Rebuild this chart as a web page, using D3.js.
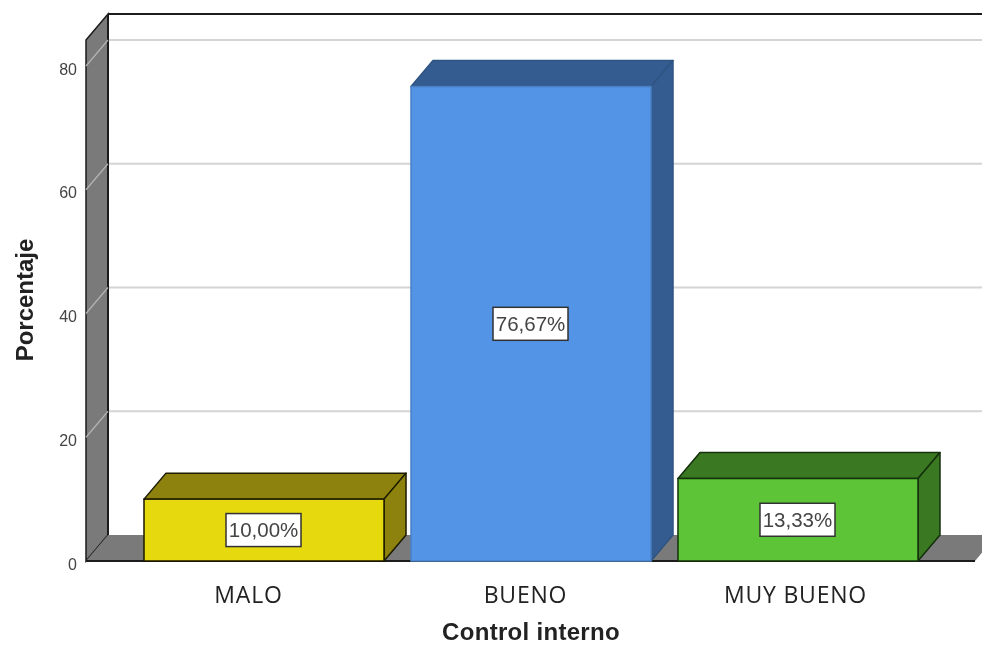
<!DOCTYPE html>
<html>
<head>
<meta charset="utf-8">
<script src="https://cdn.jsdelivr.net/npm/d3@7"></script>
<style>
html,body{margin:0;padding:0;background:#fff;overflow:hidden}
svg{display:block}
</style>
</head>
<body>
<script>
var categories=["MALO","BUENO","MUY BUENO"]
var values=[10.00,76.67,13.33]
var yTicks=[0,20,40,60,80]
var frontColors=["#E6D90F","#5294E6","#5DC437"]
var shadeColors=["#8C8209","#345C90","#3A7823"]
var edgeColors=["#1c1a00","#4a80c4","#14300c"]
var shadeEdges=["#1c1a00","#2f5482","#14300c"]

var width=982,height=645
var depth={x:22,y:26}
var wallGray="#7A7A7A",gridGray="#D4D4D4",ink="#1a1a1a"

var root=d3.select("body").append("svg")
  .attr("width",width)
  .attr("height",height)

// the source is a slightly soft screenshot
root.append("filter").attr("id","soft")
  .attr("x",0).attr("y",0).attr("width","100%").attr("height","100%")
  .attr("filterUnits","userSpaceOnUse")
  .append("feGaussianBlur").attr("stdDeviation",0.5)

var svg=root.append("g").attr("filter","url(#soft)")

svg.append("rect").attr("width",width).attr("height",height).attr("fill","#fff")

var y=d3.scaleLinear().domain([0,80]).range([561,66])
var x=d3.scaleBand().domain(categories)
  .range([130.65,931.35])
  .paddingInner(0.101)
  .paddingOuter(0.05)

// axis labels were pasted in by hand in the original, not centred on the bars
var labelX=d3.scaleOrdinal().domain(categories).range([248,525,795])

var front=x.range()[0]-44.65   // front edge of the left wall
var back=front+depth.x
var wallTop=y(80)-depth.y-26
var floorY=y(0)

function pts(a){return a.map(function(p){return p.join(",")}).join(" ")}

// left wall
svg.append("polygon")
  .attr("points",pts([[front,y(80)-26],[back,wallTop],[back,floorY-depth.y],[front,floorY]]))
  .attr("fill",wallGray)
  .attr("stroke",ink)
  .attr("stroke-width",1.5)

// floor
svg.append("polygon")
  .attr("points",pts([[front,floorY],[back,floorY-depth.y],[997,floorY-depth.y],[975,floorY]]))
  .attr("fill",wallGray)

svg.append("line")
  .attr("x1",front).attr("x2",975)
  .attr("y1",floorY).attr("y2",floorY)
  .attr("stroke",ink).attr("stroke-width",2)

svg.append("line")
  .attr("x1",back).attr("x2",width)
  .attr("y1",wallTop).attr("y2",wallTop)
  .attr("stroke",ink).attr("stroke-width",2)

svg.append("line")
  .attr("x1",back).attr("x2",back)
  .attr("y1",wallTop).attr("y2",floorY-depth.y)
  .attr("stroke",ink).attr("stroke-width",2)

// gridlines, back wall plus the slanted bit across the side wall
var grid=svg.append("g").selectAll("g").data(yTicks.slice(1)).join("g")

grid.append("line")
  .attr("x1",back+1).attr("x2",width)
  .attr("y1",function(d){return y(d)-depth.y})
  .attr("y2",function(d){return y(d)-depth.y})
  .attr("stroke",gridGray).attr("stroke-width",2)

grid.append("line")
  .attr("x1",front).attr("x2",back)
  .attr("y1",function(d){return y(d)})
  .attr("y2",function(d){return y(d)-depth.y})
  .attr("stroke","#B4B4B4").attr("stroke-width",1.2)

// bars
var bars=svg.append("g").selectAll("g").data(categories).join("g")

function barTop(i){return y(values[i])}

bars.append("polygon")
  .attr("points",function(d,i){
    var l=x(d),r=l+x.bandwidth(),t=barTop(i)
    return pts([[l,t],[l+depth.x,t-depth.y],[r+depth.x,t-depth.y],[r,t]])})
  .attr("fill",function(d,i){return shadeColors[i]})
  .attr("stroke",function(d,i){return shadeEdges[i]})
  .attr("stroke-width",1.5)
  .attr("stroke-linejoin","round")

bars.append("polygon")
  .attr("points",function(d,i){
    var r=x(d)+x.bandwidth(),t=barTop(i)
    return pts([[r,t],[r+depth.x,t-depth.y],[r+depth.x,y(0)-depth.y],[r,y(0)]])})
  .attr("fill",function(d,i){return shadeColors[i]})
  .attr("stroke",function(d,i){return shadeEdges[i]})
  .attr("stroke-width",1.5)
  .attr("stroke-linejoin","round")

bars.append("rect")
  .attr("x",function(d){return x(d)})
  .attr("y",function(d,i){return barTop(i)})
  .attr("width",x.bandwidth())
  .attr("height",function(d,i){return y(0)-barTop(i)})
  .attr("fill",function(d,i){return frontColors[i]})
  .attr("stroke",function(d,i){return edgeColors[i]})
  .attr("stroke-width",1.5)

// value labels
var es=d3.formatLocale({decimal:",",thousands:".",grouping:[3],currency:["","%"]})
var fmt=es.format(".2f")

var boxW=75,boxH=33
var tags=bars.append("g")
  .attr("transform",function(d,i){
    return "translate("+(x(d)+x.bandwidth()/2-0.5)+","+((barTop(i)+y(0))/2)+")"})

tags.append("rect")
  .attr("x",-boxW/2).attr("y",-boxH/2)
  .attr("width",boxW).attr("height",boxH)
  .attr("fill","#fff")
  .attr("stroke","#333").attr("stroke-width",1.5)

tags.append("text")
  .attr("text-anchor","middle")
  .attr("y",7)
  .attr("font-family","'Liberation Sans',Arial,sans-serif")
  .attr("font-size",20.5)
  .attr("fill","#444")
  .text(function(d,i){return fmt(values[i])+"%"})

// axes
var yAxis=svg.append("g")
  .attr("transform","translate("+(front-9)+",3)")
  .call(d3.axisLeft(y).tickValues(yTicks).tickSize(0).tickPadding(0))
yAxis.select(".domain").remove()
yAxis.selectAll("text")
  .attr("font-family","'Liberation Sans',Arial,sans-serif")
  .attr("font-size",16)
  .attr("fill","#444")

var xAxis=svg.append("g")
  .attr("transform","translate(0,587)")
  .call(d3.axisBottom(labelX).tickSize(0).tickPadding(0))
xAxis.select(".domain").remove()
xAxis.selectAll("text")
  .attr("font-family","'Open Sans',sans-serif")
  .attr("font-size",23)
  .attr("letter-spacing",0.8)
  .attr("fill","#222")

// axis titles
svg.append("text")
  .attr("x",531).attr("y",639.5)
  .attr("text-anchor","middle")
  .attr("font-family","'Liberation Sans',Arial,sans-serif")
  .attr("font-weight","bold")
  .attr("font-size",24)
  .attr("letter-spacing",0.3)
  .attr("fill","#222")
  .text("Control interno")

svg.append("text")
  .attr("transform","translate(33,300) rotate(-90)")
  .attr("text-anchor","middle")
  .attr("font-family","'Liberation Sans',Arial,sans-serif")
  .attr("font-weight","bold")
  .attr("font-size",24)
  .attr("fill","#222")
  .text("Porcentaje")
</script>
</body>
</html>
